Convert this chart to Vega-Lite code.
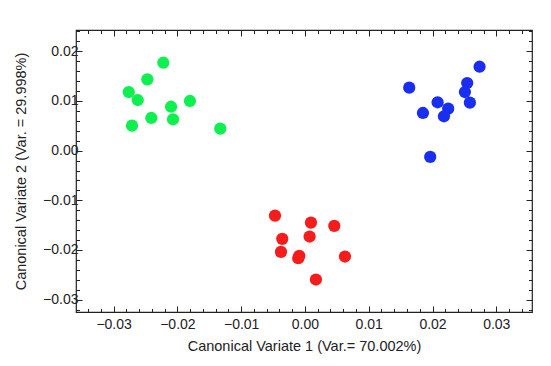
{
  "$schema": "https://vega.github.io/schema/vega-lite/v6.json",
  "autosize": "none",
  "width": 456,
  "height": 282,
  "padding": {"left": 76, "top": 30, "right": 19, "bottom": 54},
  "background": "white",
  "config": {
    "view": {"stroke": "#222", "strokeWidth": 1.2},
    "font": "Liberation Sans",
    "axis": {
      "grid": false,
      "domain": false,
      "labelFont": "Liberation Sans",
      "labelFontSize": 14,
      "labelColor": "#222",
      "tickColor": "#222",
      "titleFont": "Liberation Sans",
      "titleFontSize": 14.5,
      "titleFontWeight": "normal",
      "titleColor": "#222"
    }
  },
  "data": {
    "values": [
      {"cv1": -0.02763, "cv2": 0.01181, "group": "G"},
      {"cv1": -0.02622, "cv2": 0.0102, "group": "G"},
      {"cv1": -0.02472, "cv2": 0.01437, "group": "G"},
      {"cv1": -0.02221, "cv2": 0.01771, "group": "G"},
      {"cv1": -0.02712, "cv2": 0.00503, "group": "G"},
      {"cv1": -0.02409, "cv2": 0.00658, "group": "G"},
      {"cv1": -0.0210, "cv2": 0.00885, "group": "G"},
      {"cv1": -0.02069, "cv2": 0.00632, "group": "G"},
      {"cv1": -0.01803, "cv2": 0.0100, "group": "G"},
      {"cv1": -0.01328, "cv2": 0.00443, "group": "G"},
      {"cv1": 0.01635, "cv2": 0.01268, "group": "B"},
      {"cv1": 0.0185, "cv2": 0.00759, "group": "B"},
      {"cv1": 0.0208, "cv2": 0.00974, "group": "B"},
      {"cv1": 0.02246, "cv2": 0.00845, "group": "B"},
      {"cv1": 0.02179, "cv2": 0.00692, "group": "B"},
      {"cv1": 0.02544, "cv2": 0.01362, "group": "B"},
      {"cv1": 0.02508, "cv2": 0.01181, "group": "B"},
      {"cv1": 0.02586, "cv2": 0.00966, "group": "B"},
      {"cv1": 0.02738, "cv2": 0.0169, "group": "B"},
      {"cv1": 0.01964, "cv2": -0.00127, "group": "B"},
      {"cv1": -0.0047, "cv2": -0.01308, "group": "R"},
      {"cv1": -0.00356, "cv2": -0.01777, "group": "R"},
      {"cv1": -0.00376, "cv2": -0.02038, "group": "R"},
      {"cv1": -0.00089, "cv2": -0.02119, "group": "R"},
      {"cv1": -0.00105, "cv2": -0.02165, "group": "R"},
      {"cv1": 0.00094, "cv2": -0.01449, "group": "R"},
      {"cv1": 0.00073, "cv2": -0.0173, "group": "R"},
      {"cv1": 0.0046, "cv2": -0.01515, "group": "R"},
      {"cv1": 0.00627, "cv2": -0.02133, "group": "R"},
      {"cv1": 0.00172, "cv2": -0.02596, "group": "R"}
    ]
  },
  "layer": [
    {
      "mark": {"type": "point", "filled": true, "opacity": 1, "size": 150},
      "encoding": {
        "x": {
          "field": "cv1", "type": "quantitative",
          "scale": {"domain": [-0.0359, 0.0356], "nice": false, "zero": false},
          "axis": {
            "orient": "bottom",
            "title": "Canonical Variate 1 (Var.= 70.002%)",
            "values": [-0.034,-0.032,-0.03,-0.028,-0.026,-0.024,-0.022,-0.02,-0.018,-0.016,-0.014,-0.012,-0.01,-0.008,-0.006,-0.004,-0.002,0,0.002,0.004,0.006,0.008,0.01,0.012,0.014,0.016,0.018,0.02,0.022,0.024,0.026,0.028,0.03,0.032,0.034],
            "labelExpr": "abs(datum.value*100 - round(datum.value*100)) < 1e-6 ? format(datum.value, '.2f') : ''",
            "tickSize": {"condition": {"test": "abs(datum.value*100 - round(datum.value*100)) < 1e-6", "value": -6}, "value": -3.5},
            "labelPadding": 11,
            "labelOverlap": false,
            "titlePadding": 6
          }
        },
        "y": {
          "field": "cv2", "type": "quantitative",
          "scale": {"domain": [-0.0325, 0.0243], "nice": false, "zero": false},
          "axis": {
            "orient": "left",
            "title": "Canonical Variate 2 (Var. = 29.998%)",
            "values": [-0.032,-0.03,-0.028,-0.026,-0.024,-0.022,-0.02,-0.018,-0.016,-0.014,-0.012,-0.01,-0.008,-0.006,-0.004,-0.002,0,0.002,0.004,0.006,0.008,0.01,0.012,0.014,0.016,0.018,0.02,0.022,0.024],
            "labelExpr": "abs(datum.value*100 - round(datum.value*100)) < 1e-6 ? format(datum.value, '.2f') : ''",
            "tickSize": {"condition": {"test": "abs(datum.value*100 - round(datum.value*100)) < 1e-6", "value": -6}, "value": -3.5},
            "labelPadding": 4,
            "labelOverlap": false,
            "titlePadding": 14
          }
        },
        "color": {
          "field": "group", "type": "nominal", "legend": null,
          "scale": {"domain": ["G", "B", "R"], "range": ["#0ef050", "#1a2ef0", "#f51c1c"]}
        }
      }
    },
    {
      "mark": {"type": "point", "opacity": 0},
      "encoding": {
        "x": {
          "field": "cv1", "type": "quantitative",
          "axis": {
            "orient": "top", "title": null, "labels": false,
            "values": [-0.034,-0.032,-0.03,-0.028,-0.026,-0.024,-0.022,-0.02,-0.018,-0.016,-0.014,-0.012,-0.01,-0.008,-0.006,-0.004,-0.002,0,0.002,0.004,0.006,0.008,0.01,0.012,0.014,0.016,0.018,0.02,0.022,0.024,0.026,0.028,0.03,0.032,0.034],
            "tickSize": {"condition": {"test": "abs(datum.value*100 - round(datum.value*100)) < 1e-6", "value": -6}, "value": -3.5}
          }
        },
        "y": {
          "field": "cv2", "type": "quantitative",
          "axis": {
            "orient": "right", "title": null, "labels": false,
            "values": [-0.032,-0.03,-0.028,-0.026,-0.024,-0.022,-0.02,-0.018,-0.016,-0.014,-0.012,-0.01,-0.008,-0.006,-0.004,-0.002,0,0.002,0.004,0.006,0.008,0.01,0.012,0.014,0.016,0.018,0.02,0.022,0.024],
            "tickSize": {"condition": {"test": "abs(datum.value*100 - round(datum.value*100)) < 1e-6", "value": -6}, "value": -3.5}
          }
        }
      }
    }
  ],
  "resolve": {"axis": {"x": "independent", "y": "independent"}}
}
